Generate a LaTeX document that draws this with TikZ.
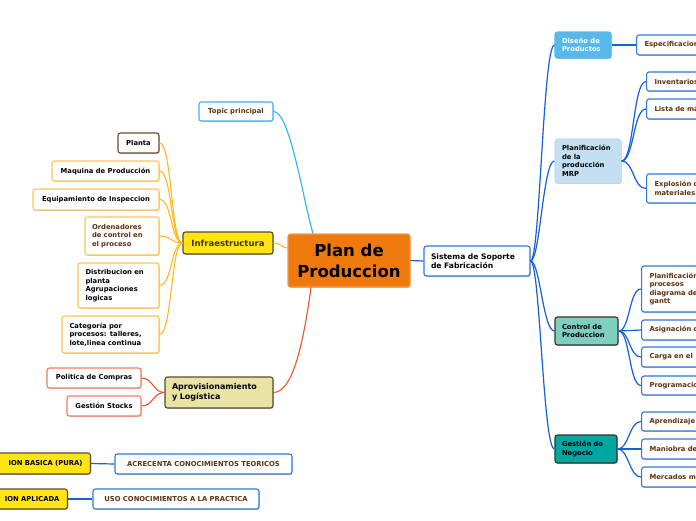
\documentclass[tikz,border=0pt]{standalone}
\usepackage{fontspec}
\setmainfont{DejaVu Sans}
\usetikzlibrary{shadows}
\definecolor{planor}{HTML}{EE7A0E}
\definecolor{planbd}{HTML}{F29A4A}
\definecolor{cyanc}{HTML}{2CB4EE}
\definecolor{topicbd}{HTML}{45B0EA}
\definecolor{infrafill}{HTML}{FFE514}
\definecolor{darkbd}{HTML}{5A4A2A}
\definecolor{yelbd}{HTML}{FDC651}
\definecolor{yelc}{HTML}{FFB81C}
\definecolor{plantabd}{HTML}{6B4E2E}
\definecolor{aprovfill}{HTML}{E9E4A6}
\definecolor{redbd}{HTML}{F47A62}
\definecolor{redc}{HTML}{F0532C}
\definecolor{bluebd}{HTML}{2F78DD}
\definecolor{bluec}{HTML}{1560D4}
\definecolor{disenofill}{HTML}{56B9EA}
\definecolor{mrpfill}{HTML}{C5DFF2}
\definecolor{ctrlfill}{HTML}{7FCFC1}
\definecolor{gestfill}{HTML}{00A7A0}
\definecolor{browntx}{HTML}{5C3310}
\definecolor{infratx}{HTML}{4A3410}
\newcommand\myfs[2]{\fontsize{#1}{#2}\selectfont\bfseries}
\tikzset{
  box/.style={rounded corners=2.5pt, line width=1.1pt, inner sep=0pt, fill=white,
    font=\myfs{6.8pt}{8.5pt},
    drop shadow={shadow xshift=0.7pt,shadow yshift=-0.9pt,opacity=0.22,fill=black}},
  bleaf/.style={box, draw=bluebd, text=browntx},
  yleaf/.style={box, draw=yelbd, text=black},
  rleaf/.style={box, draw=redbd, text=black},
  rightleaf/.style={bleaf, anchor=west, minimum width=90pt, text width=74pt, align=left},
  mainbox/.style={box, draw=darkbd, line width=1.1pt},
  bconn/.style={draw=bluec, line width=1.2pt},
  yconn/.style={draw=yelc, line width=1.1pt},
  rconn/.style={draw=redc, line width=1.1pt},
}
\begin{document}
\begin{tikzpicture}[x=1pt,y=-1pt]
\useasboundingbox (0,0) rectangle (696,520);
\clip (0,0) rectangle (696,520);
\fill[white] (0,0) rectangle (696,520);

% ---------- nodes ----------
\node[box, draw=planbd, fill=planor, text=black, minimum width=122pt, minimum height=53pt,
  font=\myfs{16.5pt}{21pt}, align=center] (plan) at (349,260.5) {Plan de\\Produccion};

\node[box, draw=topicbd, text=browntx, minimum width=74pt, minimum height=19pt] (topic) at (236,111.5) {Topic principal};

\node[mainbox, fill=infrafill, text=infratx, minimum width=90pt, minimum height=22pt, font=\myfs{8.5pt}{10pt}] (infra) at (228,243) {Infraestructura};

\node[box, draw=plantabd, minimum width=41pt, minimum height=20pt] (planta) at (138.5,143) {Planta};
\node[yleaf, minimum width=107pt, minimum height=20pt] (maquina) at (105.5,171) {Maquina de Producción};
\node[yleaf, minimum width=126pt, minimum height=21pt] (equip) at (96,199.5) {Equipamiento de Inspeccion};
\node[yleaf, text=browntx, minimum width=74pt, minimum height=38pt, text width=60pt, align=left] (orden) at (122,236) {Ordenadores\\de control en\\el proceso};
\node[yleaf, minimum width=81pt, minimum height=45pt, text width=66pt, align=left] (distri) at (118.5,285.5) {Distribucion en\\planta\\Agrupaciones\\logicas};
\node[yleaf, minimum width=97pt, minimum height=37pt, text width=82pt, align=left] (categ) at (110.5,334.5) {Categoría por\\procesos: talleres,\\lote,linea continua};

\node[mainbox, fill=aprovfill, text=black, minimum width=108pt, minimum height=31pt, text width=94pt, align=left, font=\myfs{8pt}{10.5pt}] (aprov) at (219,392.5) {Aprovisionamiento\\y Logística};
\node[rleaf, minimum width=94pt, minimum height=20pt] (politica) at (94,378) {Politica de Compras};
\node[rleaf, minimum width=74pt, minimum height=20pt] (gstocks) at (104,406) {Gestión Stocks};

\node[mainbox, fill=infrafill, text=black, anchor=east, minimum width=110pt, minimum height=21pt, text width=94pt, align=right] (basica) at (91,463.5) {ION BASICA (PURA)};
\node[bleaf, minimum width=177pt, minimum height=20pt] (acrec) at (203.5,464) {ACRECENTA CONOCIMIENTOS TEORICOS};
\node[mainbox, fill=infrafill, text=black, anchor=east, minimum width=100pt, minimum height=20pt, text width=84pt, align=right] (aplic) at (68,499) {ION APLICADA};
\node[bleaf, minimum width=166pt, minimum height=20pt] (uso) at (176,499) {USO CONOCIMIENTOS A LA PRACTICA};

\node[bleaf, text=black, minimum width=106pt, minimum height=30pt, text width=92pt, align=left, font=\myfs{7.6pt}{9.5pt}] (sistema) at (477,261) {Sistema de Soporte\\de Fabricación};

\node[box, draw=disenofill, fill=disenofill, text=white, minimum width=56pt, minimum height=26pt, text width=42pt, align=left] (diseno) at (583,45) {Diseño de\\Productos};
\node[rightleaf, minimum height=20pt] (especif) at (636,45) {Especificacion};

\node[box, draw=mrpfill, fill=mrpfill, text=black, minimum width=66pt, minimum height=44pt, text width=52pt, align=left] (mrp) at (588,161) {Planificación\\de la\\producción\\MRP};
\node[rightleaf, minimum height=19pt] (invent) at (646,81.5) {Inventarios};
\node[rightleaf, minimum height=20pt] (lista) at (646,109) {Lista de ma};
\node[rightleaf, minimum height=29pt] (explos) at (646,188.5) {Explosión d\\materiales};

\node[mainbox, draw=black!80, fill=ctrlfill, text=black, minimum width=63pt, minimum height=28pt, text width=49pt, align=left] (control) at (586.5,331) {Control de\\Produccion};
\node[rightleaf, minimum height=46pt] (planproc) at (641,289) {Planificación\\procesos\\diagrama de\\gantt};
\node[rightleaf, minimum height=20pt] (asign) at (641,330) {Asignación d};
\node[rightleaf, minimum height=20pt] (carga) at (641,357) {Carga en el};
\node[rightleaf, minimum height=19pt] (program) at (641,385.5) {Programacio};

\node[mainbox, draw=black!80, fill=gestfill, text=black, minimum width=62pt, minimum height=28pt, text width=48pt, align=left] (gestion) at (586,449) {Gestión de\\Negocio};
\node[rightleaf, minimum height=19pt] (aprend) at (641,421.5) {Aprendizaje};
\node[rightleaf, minimum height=20pt] (maniobra) at (641,449) {Maniobra de};
\node[rightleaf, minimum height=20pt] (mercados) at (641,477) {Mercados m};

% ---------- connectors ----------
\draw[draw=cyanc, line width=1.1pt] (topic.east) .. controls (290,111.5) and (303,200) .. ([xshift=-36pt]plan.north);
\draw[yconn] (infra.east) .. controls (281,243) and (282,248) .. ([yshift=12.5pt]plan.west);
\draw[rconn] (aprov.east) .. controls (295,392.5) and (305,330) .. ([xshift=-38pt]plan.south);
\draw[bconn] (plan.east) .. controls (417,261) and (417,261) .. (sistema.west);

\foreach \n in {planta,maquina,equip,orden,distri,categ}
  \draw[yconn] (infra.west) .. controls (171,243) and (172,0|-\n.east) .. (\n.east);
\foreach \n in {politica,gstocks}
  \draw[rconn] (aprov.west) .. controls (153,392.5) and (153,0|-\n.east) .. (\n.east);

\draw[bconn] (basica.east) -- (acrec.west);
\draw[bconn] (aplic.east) -- (uso.west);

\foreach \n in {diseno,mrp,control,gestion}
  \draw[bconn] (sistema.east) .. controls (540,261) and (543,0|-\n.west) .. (\n.west);
\draw[bconn] (diseno.east) -- (especif.west);
\foreach \n in {invent,lista,explos}
  \draw[bconn] (mrp.east) .. controls (634,161) and (633,0|-\n.west) .. (\n.west);
\foreach \n in {planproc,asign,carga,program}
  \draw[bconn] (control.east) .. controls (630,331) and (629,0|-\n.west) .. (\n.west);
\foreach \n in {aprend,maniobra,mercados}
  \draw[bconn] (gestion.east) .. controls (629,449) and (629,0|-\n.west) .. (\n.west);
\end{tikzpicture}
\end{document}
